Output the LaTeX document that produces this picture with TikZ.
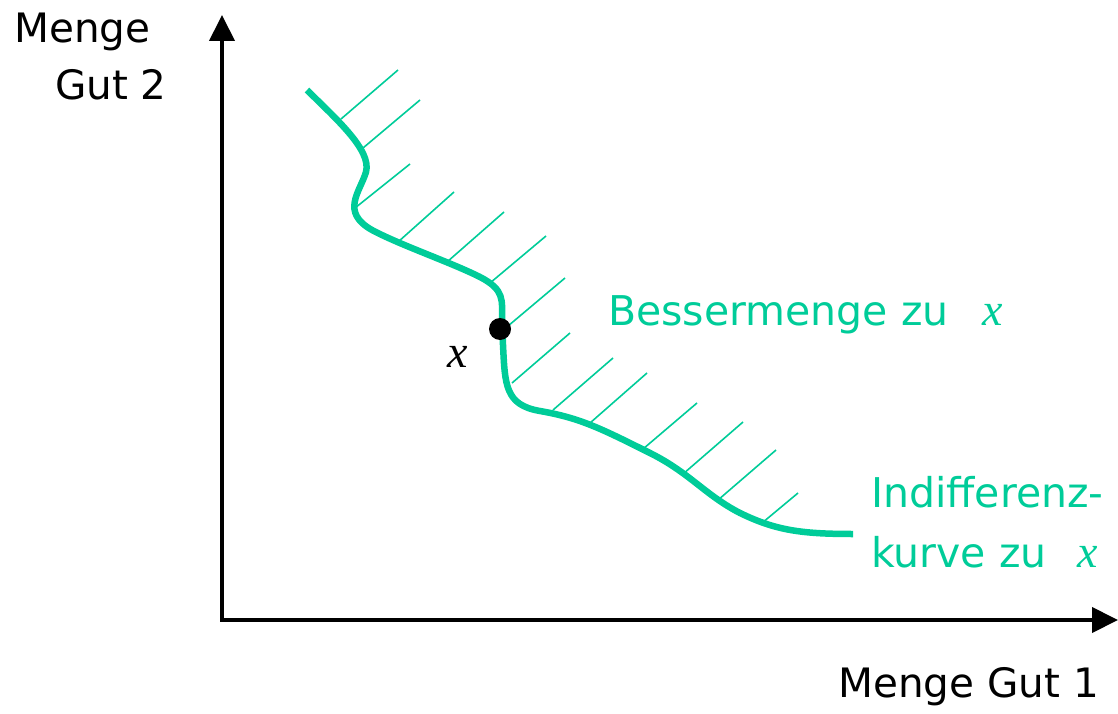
\documentclass[tikz,border=0pt]{standalone}
\usepackage{fontspec}
\setmainfont{DejaVu Sans}
\newfontfamily\serifit{Liberation Serif}[ItalicFont=* Italic]
\usetikzlibrary{arrows.meta}
\definecolor{mint}{RGB}{0,204,153}
\begin{document}
\begin{tikzpicture}[x=1pt,y=-1pt,
  axis/.style={line width=4pt,{Triangle[length=26pt,width=25pt]}-{Triangle[length=26pt,width=25pt]}},
  curve/.style={mint,line width=6.5pt},
  hatch/.style={mint,line width=1.6pt},
  blacktext/.style={inner sep=0pt,anchor=base west,font=\fontsize{40.5}{48}\selectfont},
  greentext/.style={inner sep=0pt,anchor=base west,text=mint,font=\fontsize{41}{48}\selectfont},
  varx/.style={inner sep=0pt,anchor=base,font=\fontsize{46}{48}\serifit\itshape}]
\useasboundingbox (0,0) rectangle (1118,714);
% axes
\coordinate (top) at (222,15);
\coordinate (corner) at (222,620);
\coordinate (right) at (1118,620);
\draw[axis] (top) -- (corner) -- (right);
% hatches
\foreach \a/\b in {
  {(341,119)}/{(398,70)},
  {(363,148)}/{(420,100)},
  {(355,208)}/{(410,164)},
  {(398,242)}/{(454,192)},
  {(447,262)}/{(504,212)},
  {(490,283)}/{(546,236)},
  {(508,326)}/{(565,278)},
  {(512,383)}/{(570,333)},
  {(553,410)}/{(613,358)},
  {(590,423)}/{(647,373)},
  {(643,449)}/{(697,403)},
  {(683,474)}/{(743,422)},
  {(718,500)}/{(776,450)},
  {(762,523)}/{(798,493)}}
  \draw[hatch] \a -- \b;
% indifference curve
\draw[curve] (307,90) .. controls (335,118) and (372,150) .. (366,172)
  .. controls (360,192) and (340,212) .. (372,230)
  .. controls (400,245) and (450,262) .. (480,277)
  .. controls (505,290) and (502,300) .. (502,320)
  -- (503,345)
  .. controls (505,385) and (505,405) .. (540,411)
  .. controls (580,418) and (600,428) .. (650,453)
  .. controls (690,473) and (705,495) .. (740,513)
  .. controls (775,530) and (800,534) .. (853,534);
% point x
\node[circle,fill=black,inner sep=0pt,minimum width=22pt,minimum height=20pt] (xpt) at (500,329) {};
\node[varx] (xlabel) at (458,367) {x};
% labels
\node[blacktext] (m2a) at (14,43) {Menge};
\node[blacktext] (m2b) at (55,100) {Gut 2};
\node[blacktext] (m1) at (838,697) {Menge Gut 1};
\node[greentext] (bm) at (608,325) {Bessermenge zu};
\node[varx,text=mint] (bmx) at (993,325) {x};
\node[greentext] (ik1) at (871,507) {Indifferenz-};
\node[greentext] (ik2) at (871,567) {kurve zu};
\node[varx,text=mint] (ikx) at (1088,567) {x};
\end{tikzpicture}
\end{document}
